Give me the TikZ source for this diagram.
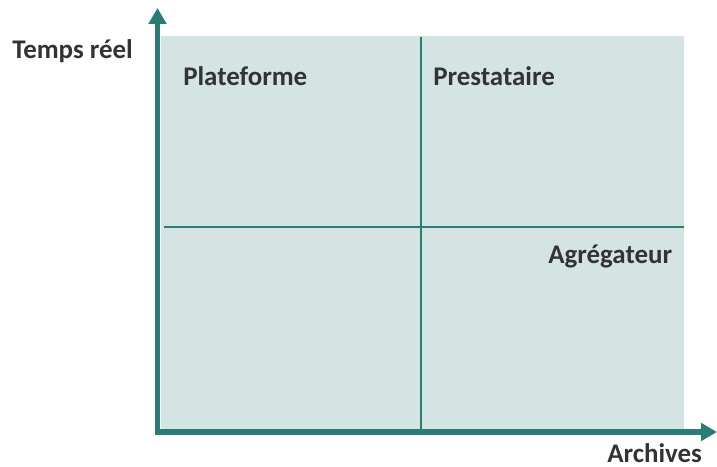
\documentclass[tikz,border=0pt]{standalone}
\usepackage{fontspec}
\setmainfont{Carlito}
\usetikzlibrary{arrows.meta}
\definecolor{axisteal}{HTML}{2A7D74}
\definecolor{quadfill}{HTML}{D4E4E2}
\definecolor{labelgrey}{HTML}{333333}
\begin{document}
\begin{tikzpicture}[x=0.75pt,y=-0.75pt,
  lbl/.style={anchor=base west,inner sep=0pt,text=labelgrey,font=\fontsize{20.2}{24}\selectfont\bfseries},
  axisline/.style={draw=axisteal,line width=4.2pt,-{Triangle[width=13pt,length=12pt]}},
  divider/.style={draw=axisteal,line width=1.6pt}]
\useasboundingbox (0,0) rectangle (717,467);
\fill[quadfill] (161,36) rectangle (684,430);
\coordinate (vtop) at (421,37);
\coordinate (vbot) at (421,430);
\coordinate (hleft) at (164,227);
\coordinate (hright) at (684,227);
\draw[divider] (vtop) -- (vbot);
\draw[divider] (hleft) -- (hright);
\coordinate (yorig) at (157.5,433);
\coordinate (ytip) at (157.5,8);
\coordinate (xorig) at (155,432);
\coordinate (xtip) at (717,432);
\draw[axisline] (yorig) -- (ytip);
\draw[axisline] (xorig) -- (xtip);
\node[lbl] (ylab) at (12,59) {Temps réel};
\node[lbl] (plat) at (183,85) {Plateforme};
\node[lbl] (prest) at (433,85) {Prestataire};
\node[lbl] (agreg) at (548,263) {Agrégateur};
\node[lbl] (xlab) at (607,462) {Archives};
\end{tikzpicture}
\end{document}
